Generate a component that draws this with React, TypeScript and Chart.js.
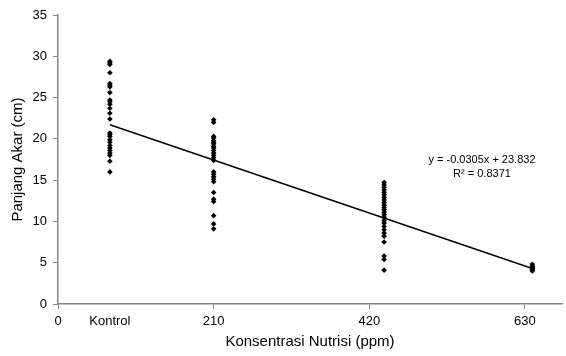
import React, { useEffect, useRef } from "react";
import { Chart, registerables } from "chart.js";

Chart.register(...registerables);

// Group x positions (Kontrol plotted at 70)
const groupX = [70, 210, 440, 640];
const kontrolY = [29.4, 29.2, 29.0, 28.0, 26.7, 26.5, 26.3, 25.6, 24.7, 24.5, 24.2, 23.7, 23.1, 22.4, 20.7, 20.5, 20.3, 19.9, 19.6, 19.2, 18.9, 18.6, 18.3, 18.0, 17.3, 16.0];
const ppm210Y = [22.3, 22.0, 20.3, 20.1, 19.8, 19.6, 19.4, 19.1, 18.9, 18.6, 18.3, 18.0, 17.7, 17.4, 16.0, 15.7, 15.4, 15.1, 14.8, 13.5, 12.7, 12.4, 10.7, 9.7, 9.1];
const ppm420Y = [14.7, 14.4, 14.1, 13.8, 13.5, 13.2, 12.9, 12.6, 12.3, 12.0, 11.7, 11.4, 11.1, 10.8, 10.5, 10.1, 9.8, 9.4, 9.0, 8.6, 8.2, 7.5, 5.8, 5.4, 4.1];
const ppm630Y = [4.8, 4.6, 4.5, 4.4, 4.3, 4.2, 4.1, 4.0];
const trendX = [70, 640];
const trendY = [21.7, 4.3];
const xTickValues = [0, 70, 210, 420, 630];
const xTickLabels = ["0", "Kontrol", "210", "420", "630"];
const equationText = "y = -0.0305x + 23.832";
const r2Text = "R² = 0.8371";

const FONT = "'Liberation Sans', Arial, sans-serif";
const AXIS = "#868686";

export default function App() {
  const ref = useRef<HTMLCanvasElement>(null);
  useEffect(() => {
    document.body.style.margin = "0";
    const groups = [kontrolY, ppm210Y, ppm420Y, ppm630Y];
    const points: { x: number; y: number }[] = [];
    groups.forEach((g, i) => g.forEach((y) => points.push({ x: groupX[i], y })));
    const trend = trendX.map((x, i) => ({ x, y: trendY[i] }));

    const eqPlugin = {
      id: "eq",
      afterDraw(chart: any) {
        const c = chart.ctx;
        c.save();
        c.fillStyle = "#000";
        c.font = `11px ${FONT}`;
        c.textAlign = "center";
        c.textBaseline = "middle";
        c.fillText(equationText, 482, 160);
        c.fillText(r2Text, 482, 174);
        c.restore();
      },
    };

    const chart = new Chart(ref.current!, {
      type: "scatter",
      data: {
        datasets: [
          {
            type: "line",
            data: trend,
            borderColor: "#000",
            borderWidth: 1.5,
            pointRadius: 0,
            fill: false,
          } as any,
          {
            data: points,
            pointStyle: "rectRot",
            pointRadius: 2.8,
            backgroundColor: "#000",
            borderColor: "#000",
            borderWidth: 0,
          },
        ],
      },
      options: {
        animation: false,
        responsive: false,
        layout: { padding: { top: 15, right: 3, left: 0, bottom: 0 } },
        plugins: { legend: { display: false }, tooltip: { enabled: false } },
        scales: {
          x: {
            type: "linear",
            min: 0,
            max: 680,
            afterBuildTicks: (s: any) => {
              s.ticks = xTickValues.map((v) => ({ value: v }));
            },
            afterFit: (s: any) => {
              s.height = 52;
            },
            ticks: {
              autoSkip: false,
              maxRotation: 0,
              color: "#000",
              padding: 5,
              font: { family: FONT, size: 13 },
              callback: (v: any) => {
                const i = xTickValues.indexOf(Number(v));
                return i >= 0 ? xTickLabels[i] : "";
              },
            },
            grid: {
              drawOnChartArea: false,
              drawTicks: true,
              tickLength: 5,
              color: (ctx: any) => (ctx.tick && ctx.tick.value === 70 ? "rgba(0,0,0,0)" : AXIS),
            },
            border: { color: AXIS, width: 1.5 },
            title: {
              display: true,
              text: "Konsentrasi Nutrisi (ppm)",
              color: "#000",
              font: { family: FONT, size: 15 },
              padding: { top: 0, bottom: 5 },
            },
          },
          y: {
            min: 0,
            max: 35,
            afterFit: (s: any) => {
              s.width = 58;
            },
            ticks: {
              stepSize: 5,
              color: "#000",
              padding: 6,
              font: { family: FONT, size: 13 },
            },
            grid: {
              drawOnChartArea: false,
              drawTicks: true,
              tickLength: 5,
              color: AXIS,
            },
            border: { color: AXIS, width: 1.5 },
            title: {
              display: true,
              text: "Panjang Akar (cm)",
              color: "#000",
              font: { family: FONT, size: 15 },
              padding: { top: 9, bottom: 0 },
            },
          },
        },
      },
      plugins: [eqPlugin],
    });
    return () => chart.destroy();
  }, []);
  return (
    <div style={{ position: "absolute", left: 0, top: 0, width: 566, height: 356 }}>
      <canvas ref={ref} width={566} height={356} />
    </div>
  );
}
